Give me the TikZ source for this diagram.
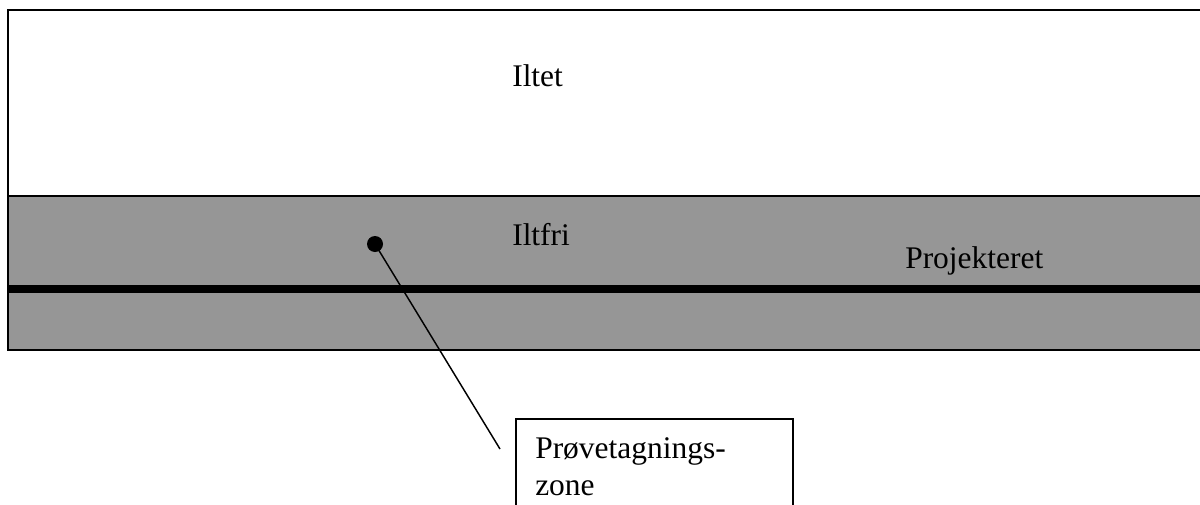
\documentclass[tikz,border=0pt]{standalone}
\usepackage{fontspec}
\setmainfont{Liberation Serif}
\usetikzlibrary{positioning}
\definecolor{mygraytikz}{RGB}{150,150,150}
\tikzset{
  textnode/.style = {anchor = base west, inner sep = 0pt,
                     font = \fontsize{23.6}{28.3}\selectfont},
  layerbox/.style = {draw = black, line width = 1.1pt},
  drainline/.style = {draw = black, line width = 6pt},
  pointnode/.style = {circle, fill = black, inner sep = 0pt, minimum size = 12pt}
}
\begin{document}
\begin{tikzpicture}[x=0.75pt, y=-0.75pt]
  \useasboundingbox (0,0) rectangle (1200,504);
  \clip (0,0) rectangle (1200,504);

  % layers
  \draw [layerbox, fill = white] (8,10) rectangle (1215,196);
  \draw [layerbox, fill = mygraytikz] (8,196) rectangle (1215,350);
  \draw [drainline] (8,289) -- (1215,289);

  \node [textnode] (oxic) at (512,86) {Iltet};
  \node [textnode] (anoxic) at (512,245) {Iltfri};
  \node [textnode] (drain) at (905,268) {Projekteret};

  % sampling zone
  \draw [layerbox, fill = white] (516,419) rectangle (793,520);
  \node [textnode] (zone1) at (535,458) {Prøvetagnings-};
  \node [textnode] (zone2) at (535,495) {zone};

  \node [pointnode] (sample) at (375,244) {};
  \coordinate (tip) at (500,449);
  \draw [line width = 1.1pt] (sample.center) -- (tip);
\end{tikzpicture}
\end{document}
